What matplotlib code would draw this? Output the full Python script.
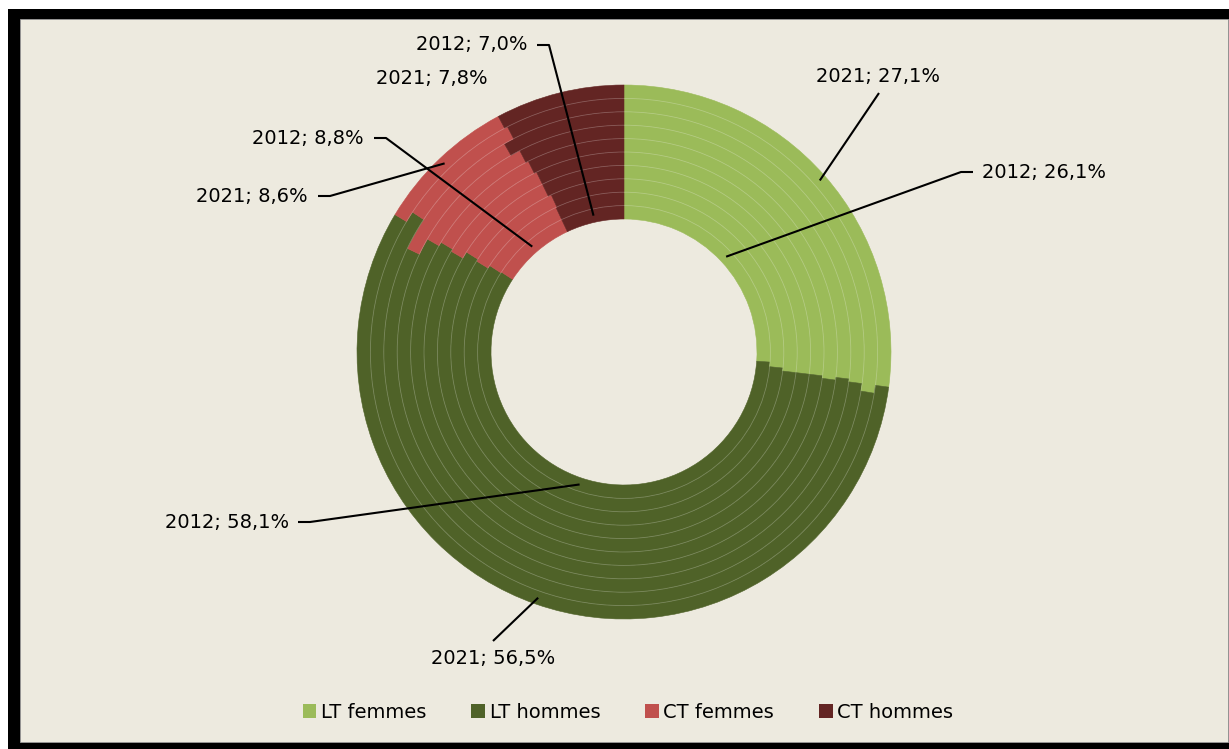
import numpy as np
import matplotlib.pyplot as plt
from matplotlib.patches import Circle, Rectangle, Patch

# Share of each contract/sex group, one ring per year (2012 inner -> 2021 outer)
years = list(range(2012, 2022))
categories = ['LT femmes', 'LT hommes', 'CT femmes', 'CT hommes']
lt_femmes = [26.1, 26.6, 26.9, 26.9, 26.9, 27.1, 26.9, 27.1, 27.6, 27.1]
lt_hommes = [58.1, 57.5, 56.9, 57.1, 56.5, 56.5, 56.4, 55.0, 56.7, 56.5]
ct_femmes = [8.8, 8.9, 9.3, 8.8, 9.4, 9.0, 9.1, 9.6, 8.1, 8.6]
ct_hommes = [7.0, 7.0, 6.9, 7.2, 7.2, 7.4, 7.6, 8.3, 7.6, 7.8]
colors = ['#9BBB59', '#4F6228', '#C0504D', '#632523']

W, H = 1229, 749
BG = '#EDEADF'

fig = plt.figure(figsize=(W / 100, H / 100), dpi=100)
fig.patch.set_facecolor('white')
ax = fig.add_axes([0, 0, 1, 1])
ax.set_axis_off()


def top(y):
    # pixel rows are given from the top edge
    return H - y


# frame: heavy black border on left/top/bottom, cream panel inside
ax.add_patch(Rectangle((8, 0), W - 8, top(9), facecolor='black', edgecolor='none', zorder=0))
ax.add_patch(Rectangle((20, top(742)), W - 21, 742 - 19, facecolor=BG,
                       edgecolor='#9a9a9a', linewidth=0.6, zorder=1))

cx, cy = 624, top(352)
r_in, r_out = 133, 267
n = len(years)
w = (r_out - r_in) / n

data = np.array([lt_femmes, lt_hommes, ct_femmes, ct_hommes]).T
for k in range(n):
    wedges, _ = ax.pie(data[k], radius=r_in + (k + 1) * w, center=(cx, cy),
                       startangle=90, counterclock=False, colors=colors, frame=True,
                       wedgeprops=dict(width=w, linewidth=0.4))
    for wd in wedges:
        wd.set_edgecolor(wd.get_facecolor())
        wd.set_zorder(2)

# faint separators between the yearly rings
for k in range(1, n):
    ax.add_patch(Circle((cx, cy), r_in + k * w, fill=False,
                        edgecolor=(1, 1, 1, 0.22), linewidth=0.6, zorder=3))

ax.set_xlim(0, W)
ax.set_ylim(0, H)
ax.set_aspect('equal')


def anchor(k, j):
    # middle of wedge j on ring k
    cum = np.cumsum(data[k])
    mid = cum[j] - data[k][j] / 2
    ang = np.deg2rad(90 - mid * 3.6)
    r = r_in + (k + 0.5) * w
    return cx + r * np.cos(ang), cy + r * np.sin(ang)


def fmt(k, j):
    return f"{years[k]}; {data[k][j]:.1f}%".replace('.', ',')


FS = 14
# (ring, category, text x, text y, ha, leader path start points)
labels = [
    (n - 1, 0, 878, 76, 'center', [(879, 93)]),
    (0, 0, 982, 172, 'left', [(973, 172), (961, 172)]),
    (0, 3, 528, 45, 'right', [(537, 45), (549, 45)]),
    (n - 1, 3, 488, 78, 'right', None),
    (0, 2, 364, 138, 'right', [(374, 138), (386, 138)]),
    (n - 1, 2, 308, 196, 'right', [(318, 196), (330, 196)]),
    (0, 1, 289, 522, 'right', [(298, 522), (310, 522)]),
    (n - 1, 1, 493, 658, 'center', [(493, 641)]),
]
for k, j, tx, ty, ha, path in labels:
    ax.text(tx, top(ty), fmt(k, j), fontsize=FS, ha=ha, va='center',
            color='black', zorder=5)
    if path:
        xs = [p[0] for p in path] + [anchor(k, j)[0]]
        ys = [top(p[1]) for p in path] + [anchor(k, j)[1]]
        ax.plot(xs, ys, color='black', linewidth=1.5, zorder=4,
                solid_capstyle='butt')

handles = [Patch(facecolor=c, edgecolor='none', label=l) for c, l in zip(colors, categories)]
ax.legend(handles=handles, loc='center', bbox_to_anchor=(628 / W, 1 - 712 / H),
          ncol=4, frameon=False, fontsize=FS, handlelength=0.7, handleheight=0.7,
          handletextpad=0.25, columnspacing=2.3)

fig.savefig('out.png', dpi=100, facecolor=fig.get_facecolor())
